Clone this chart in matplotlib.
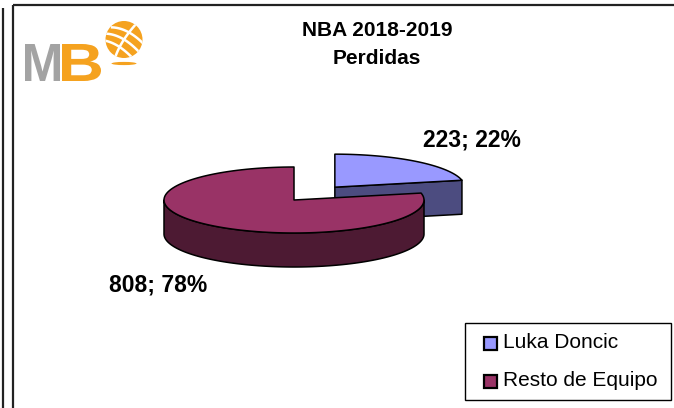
import numpy as np
import matplotlib
matplotlib.use("Agg")
import matplotlib.pyplot as plt
from matplotlib.patches import Polygon, Rectangle, Circle, Ellipse, PathPatch
from matplotlib.textpath import TextPath
from matplotlib.font_manager import FontProperties
from matplotlib.transforms import Affine2D

# ---- data ----
title_lines = ["NBA 2018-2019", "Perdidas"]
categories = ["Luka Doncic", "Resto de Equipo"]
values = [223, 808]
top_colors = ["#9999FF", "#993366"]
side_colors = ["#4C4C80", "#4D1A33"]
explode = [0.5, 0.0]

FONT = ["Liberation Sans", "DejaVu Sans"]

fig = plt.figure(figsize=(6.74, 4.08), dpi=100)
ax = fig.add_axes([0, 0, 1, 1])
ax.set_xlim(0, 674)
ax.set_ylim(408, 0)
ax.axis("off")

# ---- frame lines ----
ax.plot([3, 3], [8, 408], color="#222222", lw=1.6, solid_capstyle="butt")
ax.plot([13, 13], [5, 408], color="#222222", lw=1.6, solid_capstyle="butt")
ax.plot([13, 674], [5, 5], color="#222222", lw=1.6, solid_capstyle="butt")

# ---- 3D pie ----
cx, cy, rx, ry, depth = 294, 200, 130, 33, 34
total = float(sum(values))
fracs = [v / total for v in values]

slices = []
a = 90.0
for i, f in enumerate(fracs):
    a_end = a - 360.0 * f
    slices.append((i, a_end, a))  # ccw range [a_end, a]
    a = a_end


def pt(t, dx, dy, down=0.0):
    r = np.radians(t)
    return (cx + dx + rx * np.cos(r), cy + dy - ry * np.sin(r) + down)


def arc(t0, t1, dx, dy, down=0.0, n=120):
    ts = np.linspace(t0, t1, n)
    return [pt(t, dx, dy, down) for t in ts]


def draw_slice(i, a0, a1):
    mid = np.radians((a0 + a1) / 2)
    dx = explode[i] * rx * np.cos(mid)
    dy = -explode[i] * ry * np.sin(mid)
    c_top = (cx + dx, cy + dy)
    c_bot = (cx + dx, cy + dy + depth)
    kw = dict(closed=True, ec="black", lw=1.1, joinstyle="round")
    # cut faces
    r0 = np.radians(a0)
    if np.cos(r0) > 1e-6:  # face at a0 faces viewer
        p1 = pt(a0, dx, dy)
        p2 = pt(a0, dx, dy, depth)
        ax.add_patch(Polygon([c_top, p1, p2, c_bot], fc=side_colors[i], **kw))
    r1 = np.radians(a1)
    if np.cos(r1) < -1e-6:
        p1 = pt(a1, dx, dy)
        p2 = pt(a1, dx, dy, depth)
        ax.add_patch(Polygon([c_top, p1, p2, c_bot], fc=side_colors[i], **kw))
    # curved side (front-facing: sin < 0)
    for k in range(-2, 2):
        s0 = max(a0, -180 + 360 * k)
        s1 = min(a1, 360 * k)
        if s1 > s0:
            pts = arc(s0, s1, dx, dy) + arc(s1, s0, dx, dy, depth)
            ax.add_patch(Polygon(pts, fc=side_colors[i], **kw))
    # top face
    pts = [c_top] + arc(a0, a1, dx, dy)
    ax.add_patch(Polygon(pts, fc=top_colors[i], **kw))


order = sorted(slices, key=lambda s: -np.sin(np.radians((s[1] + s[2]) / 2)))
for s in order:
    draw_slice(*s)

# ---- data labels ----
pcts = [round(100 * f) for f in fracs]
label_pos = [(472, 140), (158, 285)]
for i in range(len(values)):
    ax.text(label_pos[i][0], label_pos[i][1], f"{values[i]}; {pcts[i]}%",
            ha="center", va="center", fontsize=16.5, fontweight="bold",
            family=FONT, color="black")

# ---- title ----
ax.text(377, 31, title_lines[0], ha="center", va="center", fontsize=15,
        fontweight="bold", family=FONT)
ax.text(377, 59, title_lines[1], ha="center", va="center", fontsize=15,
        fontweight="bold", family=FONT)

# ---- legend ----
ax.add_patch(Rectangle((465, 323), 206, 77, fc="white", ec="black", lw=1.0))
leg_y = [343, 381]
for i, cat in enumerate(categories):
    ax.add_patch(Rectangle((484, leg_y[i] - 6.5), 13, 13, fc=top_colors[i],
                           ec="black", lw=1.6))
    ax.text(503, leg_y[i], cat, ha="left", va="center", fontsize=15,
            family=FONT)

# ---- logo ----
orange = "#F5A21F"
grey = "#A3A3A3"
fp = FontProperties(family="Liberation Sans", weight="bold")


def glyph(ch, x0, x1, y0, y1, color):
    tp = TextPath((0, 0), ch, size=1, prop=fp)
    bb = tp.get_extents()
    tr = (Affine2D().translate(-bb.x0, -bb.y0)
          .scale((x1 - x0) / bb.width, -(y1 - y0) / bb.height)
          .translate(x0, y1))
    ax.add_patch(PathPatch(tr.transform_path(tp), fc=color, ec="none"))


glyph("M", 25, 60, 44, 81, grey)
glyph("B", 62, 101, 44, 81, orange)
ball = Circle((124, 39.5), 18.5, fc=orange, ec="none")
ax.add_patch(ball)
for off in (-9, 0, 9):
    t = np.linspace(-1.3, 1.3, 50)
    xs = 124 + 20 * t * 0.7 + off * 0.7
    ys = 39.5 + 20 * t * 0.7 * 0.6 - off * 0.7 + 3 * t ** 2
    ln, = ax.plot(xs, ys, color="white", lw=1.8)
    ln.set_clip_path(ball)
t = np.linspace(-1.3, 1.3, 50)
ln, = ax.plot(124 + 18 * t * 0.55 + 2 * t ** 2, 39.5 - 18 * t * 0.85, color="white", lw=1.8)
ln.set_clip_path(ball)
ax.add_patch(Ellipse((124, 63.5), 25, 3.2, fc=orange, ec="none"))

fig.savefig("out.png", dpi=100)
